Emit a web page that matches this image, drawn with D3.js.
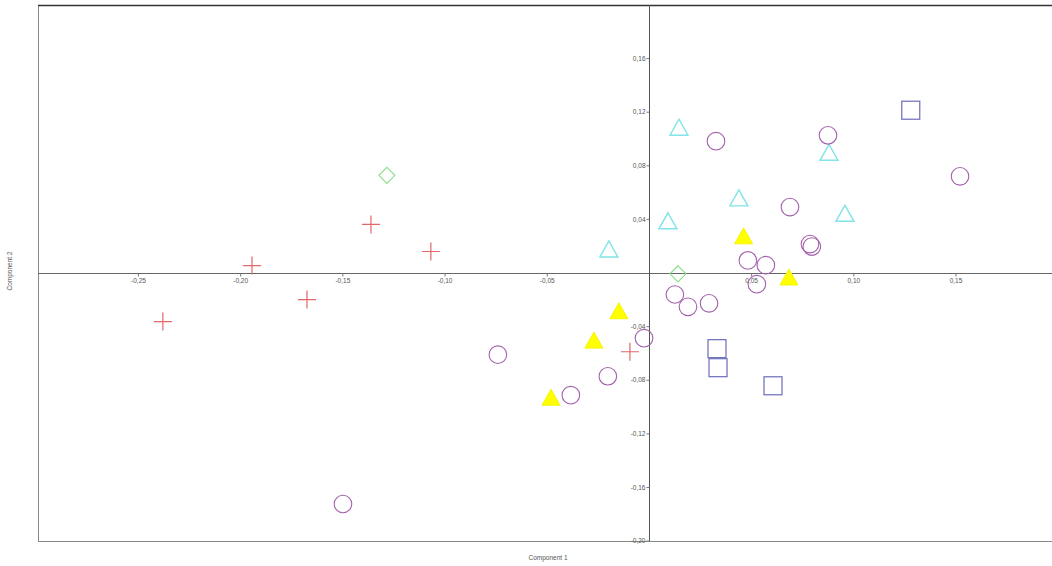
<!DOCTYPE html>
<html><head><meta charset="utf-8">
<script src="https://cdn.jsdelivr.net/npm/d3@7"></script>
<style>body{margin:0;background:#fff}svg{display:block}</style>
</head><body><svg id="c" width="1052" height="566"></svg>
<script>
const xTicks = [-0.25,-0.20,-0.15,-0.10,-0.05,0.05,0.10,0.15];
const yTicks = [-0.20,-0.16,-0.12,-0.08,-0.04,0.04,0.08,0.12,0.16];
const crossX = [-0.1942,-0.2378,-0.1673,-0.1360,-0.1067,-0.0093];
const crossY = [0.0052,-0.0366,-0.0202,0.0359,0.0157,-0.0591];
const diamondX = [-0.1282,0.0142];
const diamondY = [0.0725,-0.0010];
const openTriX = [0.0147,-0.0196,0.0093,0.0440,0.0881,0.0959];
const openTriY = [0.1072,0.0164,0.0374,0.0545,0.0885,0.0430];
const fillTriX = [0.0463,0.0685,-0.0147,-0.0269,-0.0479];
const fillTriY = [0.0262,-0.0045,-0.0297,-0.0516,-0.0942];
const circleX = [0.0328,0.0876,0.1522,0.0690,0.0788,0.0797,0.0484,0.0572,0.0528,0.0127,0.0191,0.0294,-0.0024,-0.0739,-0.0201,-0.0382,-0.1497];
const circleY = [0.0980,0.1024,0.0718,0.0488,0.0212,0.0194,0.0090,0.0055,-0.0087,-0.0164,-0.0256,-0.0230,-0.0490,-0.0613,-0.0774,-0.0915,-0.1727];
const squareX = [0.0333,0.0338,0.0607,0.1281];
const squareY = [-0.0568,-0.0710,-0.0845,0.1211];

const svg = d3.select("#c");
const L=38,R=1052,T=5,B=541;
const x = d3.scaleLinear().domain([-0.2989,0.1972]).range([L,R]);
const y = d3.scaleLinear().domain([-0.2003,0.1996]).range([B,T]);
const fmt = d => d3.format(".2f")(d).replace(".",",").replace("−","-");
const FONT = "6.5px Arial, 'Liberation Sans', sans-serif";

// frame
svg.append("line").attr("x1",L).attr("x2",R).attr("y1",B+0.5).attr("y2",B+0.5).attr("stroke","#888").attr("stroke-width",1);
svg.append("line").attr("x1",L+0.5).attr("x2",L+0.5).attr("y1",T).attr("y2",B).attr("stroke","#888").attr("stroke-width",1);
svg.append("line").attr("x1",L).attr("x2",R).attr("y1",T+0.5).attr("y2",T+0.5).attr("stroke","#333").attr("stroke-width",1.5);

// zero axes
const x0 = Math.round(x(0))+0.5, y0 = Math.round(y(0))+0.5;
svg.append("line").attr("x1",L).attr("x2",R).attr("y1",y0).attr("y2",y0).attr("stroke","#666").attr("stroke-width",1.2);
svg.append("line").attr("x1",x0).attr("x2",x0).attr("y1",T).attr("y2",B).attr("stroke","#555").attr("stroke-width",1);

const xg = svg.append("g").attr("transform",`translate(0,${y0})`)
  .call(d3.axisBottom(x).tickValues(xTicks).tickSize(3).tickPadding(2).tickFormat(fmt));
xg.select(".domain").remove();
xg.selectAll("line").attr("stroke","#777");
xg.selectAll("text").attr("fill","#555").style("font",FONT);

const yg = svg.append("g").attr("transform",`translate(${x0},0)`)
  .call(d3.axisLeft(y).tickValues(yTicks).tickSize(3).tickPadding(1).tickFormat(fmt));
yg.select(".domain").remove();
yg.selectAll("line").attr("stroke","#777");
yg.selectAll("text").attr("fill","#555").style("font",FONT);

svg.append("text").attr("x",548).attr("y",560).attr("text-anchor","middle").attr("fill","#555")
  .style("font",FONT).text("Component 1");
svg.append("text").attr("transform","translate(12,271) rotate(-90)").attr("text-anchor","middle").attr("fill","#555")
  .style("font",FONT).text("Component 2");

const g = svg.append("g");
crossX.forEach((d,i)=>{
  const cx=x(d), cy=y(crossY[i]), s=9;
  g.append("path").attr("d",`M${cx-s},${cy}H${cx+s}M${cx},${cy-s}V${cy+s}`)
    .attr("stroke","#e06868").attr("stroke-width",1.2).attr("fill","none");
});
diamondX.forEach((d,i)=>{
  const cx=x(d), cy=y(diamondY[i]), s=8;
  g.append("path").attr("d",`M${cx},${cy-s}L${cx+s},${cy}L${cx},${cy+s}L${cx-s},${cy}Z`)
    .attr("stroke","#88dd88").attr("stroke-width",1.1).attr("fill","none");
});
const tri = (cx,cy,w,h)=>`M${cx},${cy-h*0.6}L${cx+w/2},${cy+h*0.4}L${cx-w/2},${cy+h*0.4}Z`;
openTriX.forEach((d,i)=>{
  g.append("path").attr("d",tri(x(d),y(openTriY[i]),18,16))
    .attr("stroke","#80e4e8").attr("stroke-width",1.4).attr("fill","none");
});
fillTriX.forEach((d,i)=>{
  g.append("path").attr("d",tri(x(d),y(fillTriY[i]),18,16))
    .attr("stroke","#f5f500").attr("stroke-width",1).attr("fill","#ffff00");
});
circleX.forEach((d,i)=>{
  g.append("circle").attr("cx",x(d)).attr("cy",y(circleY[i])).attr("r",8.8)
    .attr("stroke","#a462ac").attr("stroke-width",1.1).attr("fill","none");
});
squareX.forEach((d,i)=>{
  const s=18;
  g.append("rect").attr("x",x(d)-s/2).attr("y",y(squareY[i])-s/2).attr("width",s).attr("height",s)
    .attr("stroke","#6c6cbc").attr("stroke-width",1.2).attr("fill","none");
});
</script></body></html>
